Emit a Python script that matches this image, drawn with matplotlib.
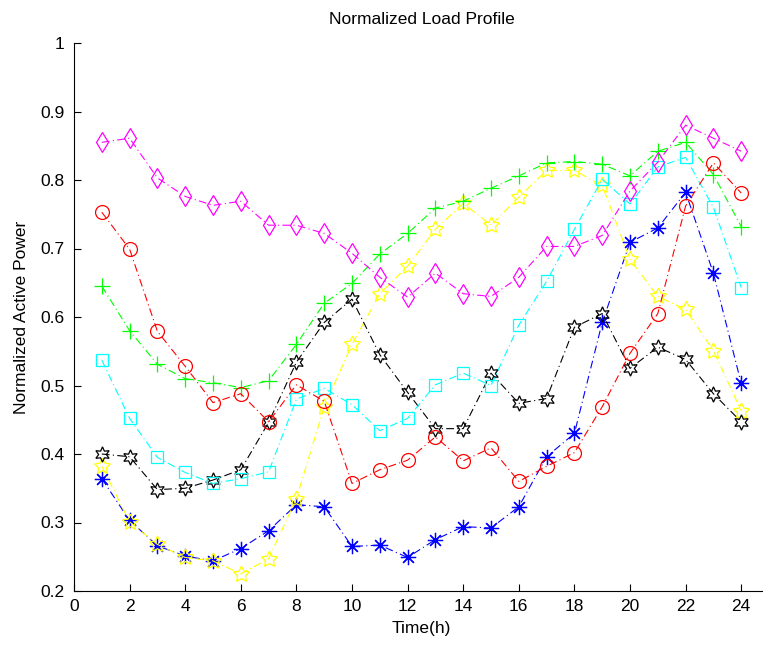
import numpy as np
import matplotlib
matplotlib.use("Agg")
import matplotlib.pyplot as plt

plt.rcParams['font.family'] = ['Liberation Sans', 'DejaVu Sans']

hours = list(range(1, 25))

magenta = [0.855, 0.861, 0.803, 0.776, 0.763, 0.769, 0.734, 0.734, 0.722, 0.693, 0.658, 0.629,
           0.664, 0.634, 0.630, 0.658, 0.703, 0.703, 0.719, 0.784, 0.826, 0.880, 0.861, 0.842]
red = [0.753, 0.699, 0.579, 0.528, 0.475, 0.488, 0.447, 0.501, 0.477, 0.357, 0.377, 0.391,
       0.425, 0.390, 0.409, 0.360, 0.382, 0.402, 0.469, 0.547, 0.605, 0.762, 0.825, 0.781]
green = [0.645, 0.580, 0.531, 0.510, 0.504, 0.497, 0.507, 0.560, 0.620, 0.649, 0.692, 0.722,
         0.759, 0.769, 0.788, 0.806, 0.825, 0.827, 0.823, 0.806, 0.842, 0.855, 0.808, 0.732]
cyan = [0.537, 0.452, 0.395, 0.373, 0.357, 0.364, 0.374, 0.480, 0.496, 0.472, 0.434, 0.452,
        0.501, 0.518, 0.500, 0.588, 0.652, 0.728, 0.801, 0.765, 0.819, 0.833, 0.760, 0.643]
black = [0.400, 0.396, 0.348, 0.350, 0.362, 0.377, 0.446, 0.534, 0.592, 0.626, 0.545, 0.490,
         0.437, 0.437, 0.518, 0.474, 0.481, 0.585, 0.605, 0.525, 0.556, 0.538, 0.488, 0.447]
yellow = [0.382, 0.301, 0.268, 0.249, 0.244, 0.225, 0.247, 0.335, 0.469, 0.560, 0.634, 0.674,
          0.728, 0.766, 0.734, 0.775, 0.814, 0.814, 0.792, 0.684, 0.630, 0.611, 0.551, 0.463]
blue = [0.364, 0.303, 0.266, 0.251, 0.244, 0.262, 0.288, 0.326, 0.323, 0.265, 0.267, 0.249,
        0.275, 0.294, 0.292, 0.323, 0.396, 0.430, 0.592, 0.709, 0.730, 0.782, 0.664, 0.503]

# (data, colour, marker, size) - drawn in MATLAB order
series = [
    (blue, (0, 0, 1), (8, 2, 0), 11),
    (yellow, (1, 1, 0), (5, 1, 0), 12),
    (black, (0, 0, 0), (6, 1, 0), 11),
    (cyan, (0, 1, 1), 's', 9),
    (green, (0, 1, 0), '+', 11),
    (red, (1, 0, 0), 'o', 10),
    (magenta, (1, 0, 1), 'd', 10),
]

fig = plt.figure(figsize=(7.63, 6.46), dpi=100)
ax = fig.add_axes([74 / 763, 1 - 591 / 646, 695 / 763, 548 / 646])

for vals, col, mk, ms in series:
    ax.plot(hours, vals, color=col, linewidth=0.8, dashes=(7, 3, 1, 3),
            marker=mk, markersize=ms, markerfacecolor='none',
            markeredgecolor=col, markeredgewidth=0.9)

ax.set_xlim(0, 25)
ax.set_ylim(0.2, 1.0)
ax.set_xticks(range(0, 25, 2))
ax.set_yticks(np.arange(0.2, 1.01, 0.1))
ax.set_yticklabels(['0.2', '0.3', '0.4', '0.5', '0.6', '0.7', '0.8', '0.9', '1'])
ax.spines['top'].set_visible(False)
ax.spines['right'].set_visible(False)
ax.tick_params(direction='in', length=5, labelsize=12.5, width=0.8)
ax.tick_params(axis='y', pad=7)
ax.tick_params(axis='x', pad=6)
ax.set_xlabel('Time(h)', fontsize=12.5, labelpad=5)
ax.set_ylabel('Normalized Active Power', fontsize=12.5, labelpad=8)
ax.set_title('Normalized Load Profile', fontsize=12.5, pad=14)

fig.savefig('out.png', dpi=100)
